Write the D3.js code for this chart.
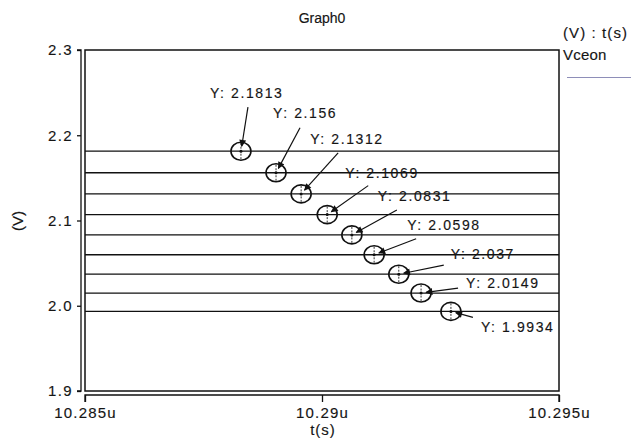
<!DOCTYPE html>
<html>
<head>
<meta charset="utf-8">
<script src="https://cdn.jsdelivr.net/npm/d3@7"></script>
<style>
  body { margin: 0; background: #fff; }
  svg text { font-family: "Liberation Sans", Arial, sans-serif; fill: #151515; stroke: #151515; stroke-width: 0.15px; }
</style>
</head>
<body>
<div id="chart"></div>
<script>
const width = 631;
const height = 441;

// marker times (us) and levels (V)
const times = [10.28829, 10.28903, 10.28956, 10.29011, 10.29063, 10.2911, 10.29162, 10.29209, 10.29272];
const levels = [2.1813, 2.156, 2.1312, 2.1069, 2.0831, 2.0598, 2.037, 2.0149, 1.9934];
const xTicks = [10.285, 10.29, 10.295];
const yTicks = [1.9, 2.0, 2.1, 2.2, 2.3];

// where each callout text / arrow tail sits, relative to its marker (px)
const labelOffsets = [[-31, -58], [-3, -60], [9, -55], [18, -42], [26, -39], [33, -30], [52, -20], [45, -10], [30, 16]];
const tailOffsets = [[7, -44], [24, -45], [37, -41], [41, -29], [45, -25], [42, -16], [45, -9], [37, -5], [22, 6]];

const frame = { left: 85, right: 559, top: 50, bottom: 391 };

const x = d3.scaleLinear().domain([10.285, 10.295]).range([frame.left, frame.right]);
const y = d3.scaleLinear().domain([1.9, 2.3]).range([frame.bottom, frame.top]);

const svg = d3.select("#chart").append("svg")
    .attr("width", width)
    .attr("height", height);

svg.append("defs").append("marker")
    .attr("id", "head")
    .attr("viewBox", "0 0 10 10")
    .attr("refX", 9).attr("refY", 5)
    .attr("markerWidth", 9).attr("markerHeight", 7)
    .attr("markerUnits", "userSpaceOnUse")
    .attr("orient", "auto")
    .append("path")
    .attr("d", "M0,0L10,5L0,10Z")
    .attr("fill", "#111");

// title
svg.append("text")
    .attr("x", 322).attr("y", 23)
    .attr("text-anchor", "middle")
    .style("font-size", "14px")
    .text("Graph0");

// plot frame
svg.append("rect")
    .attr("x", frame.left).attr("y", frame.top)
    .attr("width", frame.right - frame.left)
    .attr("height", frame.bottom - frame.top)
    .attr("fill", "none")
    .attr("stroke", "#111")
    .attr("stroke-width", 1.5);

// y axis (bracket style, off to the left)
const yAxis = svg.append("g")
    .attr("transform", "translate(81,0)")
    .call(d3.axisLeft(y).tickValues(yTicks).tickFormat(d3.format(".1f")).tickSize(4).tickPadding(4));
yAxis.select(".domain").attr("d", `M-4,${frame.top}H0V${frame.bottom}H-4`).attr("stroke", "#111").attr("stroke-width", 1.3);
yAxis.selectAll("line").attr("stroke", "#111").attr("stroke-width", 1.3);
yAxis.selectAll("text")
    .style("font-size", "15px")
    .style("letter-spacing", "1.4px")
    .attr("fill", "#151515");

// x axis
const xAxis = svg.append("g")
    .attr("transform", "translate(0,395)")
    .call(d3.axisBottom(x).tickValues(xTicks).tickFormat(d => d3.format("")(d) + "u").tickSize(7).tickPadding(5));
xAxis.select(".domain").attr("d", `M${frame.left},7V0H${frame.right}V7`).attr("stroke", "#111").attr("stroke-width", 1.3);
xAxis.selectAll("line").attr("stroke", "#111").attr("stroke-width", 1.3);
xAxis.selectAll("text")
    .style("font-size", "15px")
    .style("letter-spacing", "1.2px")
    .attr("fill", "#151515");

// axis titles
svg.append("text")
    .attr("transform", "translate(23,221) rotate(-90)")
    .attr("text-anchor", "middle")
    .style("font-size", "15px")
    .text("(V)");
svg.append("text")
    .attr("x", 323).attr("y", 435)
    .attr("text-anchor", "middle")
    .style("font-size", "15px")
    .style("letter-spacing", "1px")
    .text("t(s)");

// legend
svg.append("text")
    .attr("x", 563).attr("y", 38)
    .style("font-size", "15px")
    .style("letter-spacing", "1.1px")
    .text("(V) : t(s)");
svg.append("text")
    .attr("x", 563).attr("y", 60)
    .style("font-size", "15px")
    .style("letter-spacing", "0.2px")
    .text("Vceon");
svg.append("line")
    .attr("x1", 567).attr("x2", 631)
    .attr("y1", 77.5).attr("y2", 77.5)
    .attr("stroke", "#8e8eb8")
    .attr("stroke-width", 1);

// Vceon levels
svg.append("g")
    .selectAll("line")
    .data(levels)
    .enter().append("line")
    .attr("x1", frame.left).attr("x2", frame.right)
    .attr("y1", d => y(d)).attr("y2", d => y(d))
    .attr("stroke", "#111")
    .attr("stroke-width", 1.3);

// markers + callouts
const pts = levels.map((v, i) => ({ t: times[i], v: v, lo: labelOffsets[i], to: tailOffsets[i] }));

const mk = svg.append("g")
    .selectAll("g")
    .data(pts)
    .enter().append("g")
    .attr("transform", d => `translate(${x(d.t)},${y(d.v)})`);

mk.append("ellipse")
    .attr("rx", 10).attr("ry", 9)
    .attr("fill", "none")
    .attr("stroke", "#111")
    .attr("stroke-width", 1.6);
mk.append("line")
    .attr("x1", 0).attr("x2", 0).attr("y1", -8).attr("y2", 8)
    .attr("stroke", "#333")
    .attr("stroke-width", 1)
    .attr("stroke-dasharray", "2,1.5");
mk.append("circle")
    .attr("r", 1.5)
    .attr("fill", "#111");

mk.append("line")
    .attr("x1", d => d.to[0]).attr("y1", d => d.to[1])
    .attr("x2", d => {
        const l = Math.hypot(d.to[0], d.to[1]);
        return d.to[0] / l * 5;
    })
    .attr("y2", d => {
        const l = Math.hypot(d.to[0], d.to[1]);
        return d.to[1] / l * 5;
    })
    .attr("stroke", "#111")
    .attr("stroke-width", 1.2)
    .attr("marker-end", "url(#head)");

mk.append("text")
    .attr("x", d => d.lo[0]).attr("y", d => d.lo[1])
    .attr("dy", "0.36em")
    .style("font-size", "14px")
    .style("letter-spacing", "1.6px")
    .text(d => "Y: " + d.v);
</script>
</body>
</html>
